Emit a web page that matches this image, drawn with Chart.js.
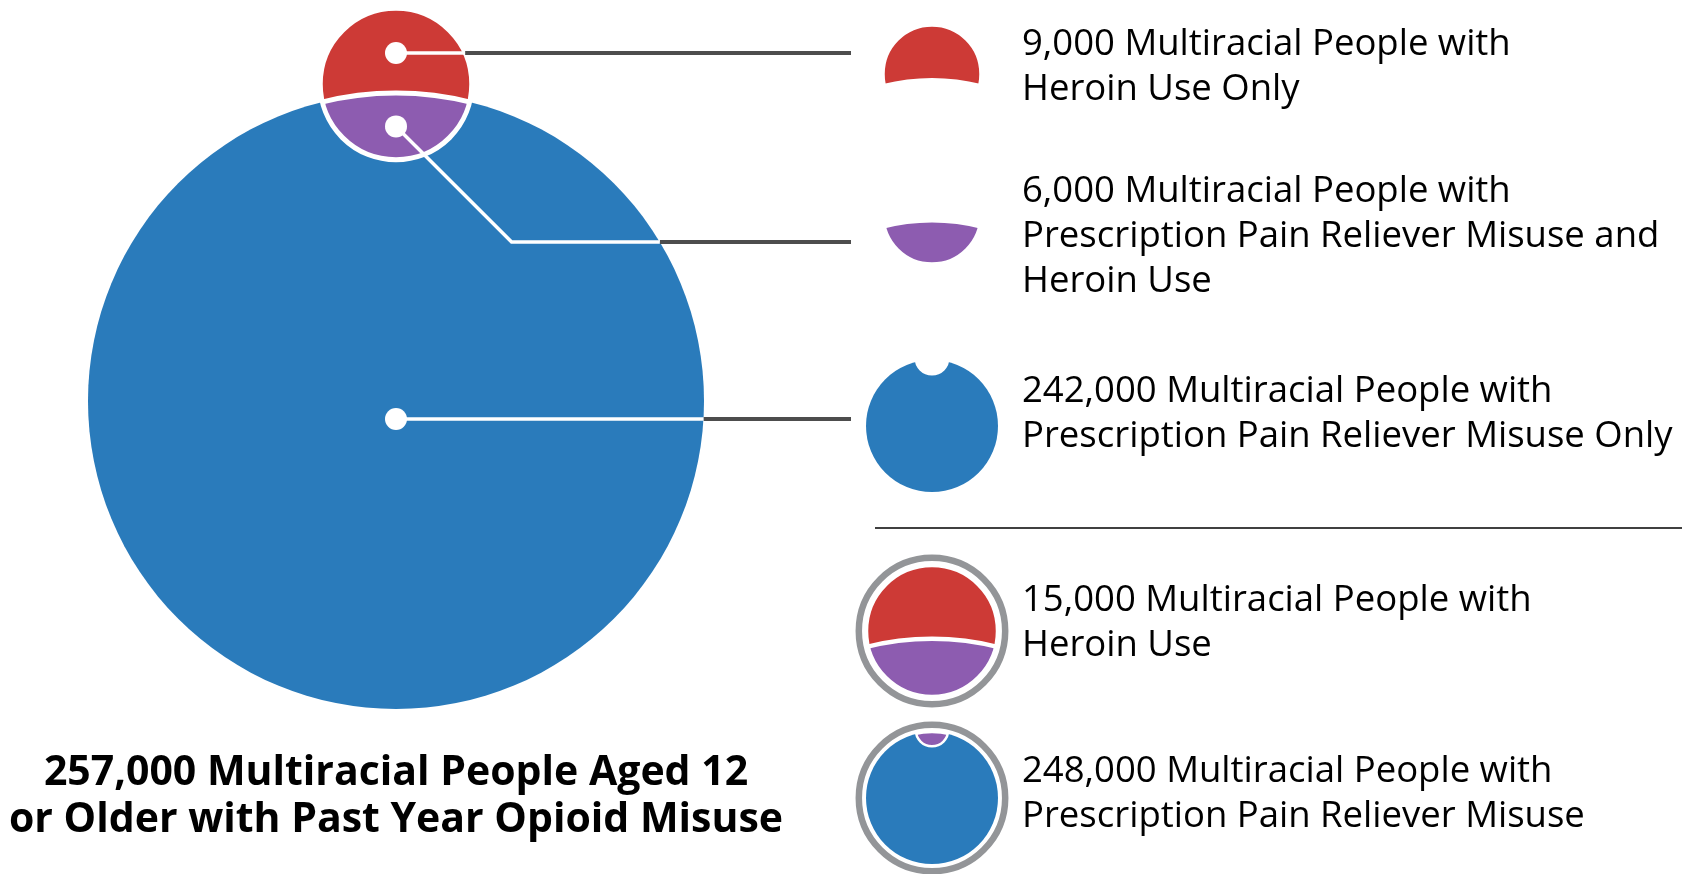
<!DOCTYPE html>
<html lang="en">
<head>
  <meta charset="UTF-8">
  <title>Multiracial People with Past Year Opioid Misuse</title>
  <script src="https://cdn.jsdelivr.net/npm/chart.js"></script>
  <style>
    html, body { margin: 0; padding: 0; background: #fff; overflow: hidden; }
    #wrap { width: 1682px; height: 874px; }
  </style>
</head>
<body>
<div id="wrap"><canvas id="venn" width="1682" height="874"></canvas></div>

<script>
// --- data (people) ---
const segmentValues = [9000, 6000, 242000];   // heroin only, both, pain reliever only
const segmentText = [
  ['Heroin Use Only'],
  ['Prescription Pain Reliever Misuse and', 'Heroin Use'],
  ['Prescription Pain Reliever Misuse Only']
];
const totalValues = [15000, 248000];          // heroin use, pain reliever misuse
const totalText = [
  ['Heroin Use'],
  ['Prescription Pain Reliever Misuse']
];
const overallValue = [257000];
const overallText = ['Multiracial People Aged 12', 'or Older with Past Year Opioid Misuse'];

// --- colours ---
const RED = '#CD3A36';
const PURPLE = '#8D5CB0';
const BLUE = '#2A7BBB';
const LEADER = '#4D4D4D';
const RING = '#939598';

// --- layout ---
const W = 1682, H = 874;
const PX_PER_ROOT = 0.6185;          // circle radius = PX_PER_ROOT * sqrt(people)
const BIG_X = 396, BIG_Y = 401;
const LEADER_Y = [53, 242, 419];
const LEADER_END = 851;
const ICON_X = 932;
const TEXT_X = 1022;
const TEXT_TOP = [55, 202, 402, 611, 782];
const LINE_H = 45;
const fmt = v => v.toLocaleString('en-US');

// circle sizes come from the values, the gap between centres from the overlap area
const R = PX_PER_ROOT * Math.sqrt(totalValues[1]);
const r = PX_PER_ROOT * Math.sqrt(totalValues[0]);

function lensArea(R, r, d) {
  const a = r * r * Math.acos((d * d + r * r - R * R) / (2 * d * r));
  const b = R * R * Math.acos((d * d + R * R - r * r) / (2 * d * R));
  const c = 0.5 * Math.sqrt((-d + r + R) * (d + r - R) * (d - r + R) * (d + r + R));
  return a + b - c;
}
function centreGap(R, r, area) {
  let lo = R - r + 1e-6, hi = R + r - 1e-6;
  for (let i = 0; i < 60; i++) {
    const mid = (lo + hi) / 2;
    if (lensArea(R, r, mid) > area) lo = mid; else hi = mid;
  }
  return (lo + hi) / 2;
}
const gap = centreGap(R, r, Math.PI * PX_PER_ROOT * PX_PER_ROOT * segmentValues[1]);

const big = { x: BIG_X, y: BIG_Y, r: R };
const small = { x: BIG_X, y: BIG_Y - gap, r: r };

const edgeX = (c, y) => c.x + Math.sqrt(c.r * c.r - (y - c.y) * (y - c.y));

const dotRed = { x: small.x, y: LEADER_Y[0] };
const dotPurple = { x: small.x, y: ((big.y - big.r) + (small.y + small.r)) / 2 };
const dotBlue = { x: big.x, y: LEADER_Y[2] };

const icons = [
  { y: 74,  anchor: 'small', size: 49, show: { red: true }, stroke: 3.5 },
  { y: 215, anchor: 'small', size: 49, show: { purple: true }, stroke: 3.5 },
  { y: 426, anchor: 'big',   size: 66, show: { blue: true }, stroke: 2.5 },
  { y: 631, anchor: 'small', size: 66, show: { red: true, purple: true }, stroke: 4.5, ring: true },
  { y: 798, anchor: 'big',   size: 66, show: { blue: true, purple: true }, stroke: 2.5, ring: true }
];

function circlePath(ctx, c) {
  ctx.beginPath();
  ctx.arc(c.x, c.y, c.r, 0, Math.PI * 2);
}

function drawVenn(ctx, B, S, show, lw) {
  if (show.blue) {
    circlePath(ctx, B);
    ctx.fillStyle = BLUE;
    ctx.fill();
  }
  ctx.save();
  circlePath(ctx, S);
  ctx.clip();
  if (show.red) {
    ctx.save();
    ctx.beginPath();
    ctx.rect(-5000, -5000, 10000, 10000);
    ctx.arc(B.x, B.y, B.r, 0, Math.PI * 2);
    ctx.clip('evenodd');
    ctx.fillStyle = RED;
    ctx.fillRect(-5000, -5000, 10000, 10000);
    ctx.restore();
  }
  if (show.purple || show.blue) {
    circlePath(ctx, B);
    ctx.fillStyle = show.purple ? PURPLE : '#fff';
    ctx.fill();
  }
  // divider = edge of the big circle inside the small one
  circlePath(ctx, B);
  ctx.strokeStyle = '#fff';
  ctx.lineWidth = lw;
  ctx.stroke();
  ctx.restore();

  circlePath(ctx, S);
  ctx.strokeStyle = '#fff';
  ctx.lineWidth = lw;
  ctx.stroke();
}

const vennPlugin = {
  id: 'venn',
  beforeDatasetsDraw(chart) {
    const ctx = chart.ctx;
    const xs = chart.scales.x, ys = chart.scales.y;
    const toPx = c => ({
      x: xs.getPixelForValue(c.x),
      y: ys.getPixelForValue(c.y),
      r: xs.getPixelForValue(c.x + c.r) - xs.getPixelForValue(c.x)
    });
    const B = toPx(big), S = toPx(small);

    ctx.save();
    drawVenn(ctx, B, S, { blue: true, red: true, purple: true }, 5);

    icons.forEach(ic => {
      const A = ic.anchor === 'big' ? B : S;
      const s = ic.size / A.r;
      const cx = xs.getPixelForValue(ICON_X), cy = ys.getPixelForValue(ic.y);
      ctx.save();
      ctx.translate(cx, cy);
      ctx.scale(s, s);
      ctx.translate(-A.x, -A.y);
      drawVenn(ctx, B, S, ic.show, ic.stroke / s);
      ctx.restore();
      if (ic.ring) {
        ctx.beginPath();
        ctx.arc(cx, cy, 73.2, 0, Math.PI * 2);
        ctx.strokeStyle = RING;
        ctx.lineWidth = 6.5;
        ctx.stroke();
      }
    });
    ctx.restore();
  },
  afterDatasetsDraw(chart) {
    const ctx = chart.ctx;
    const xs = chart.scales.x, ys = chart.scales.y;
    ctx.save();
    ctx.fillStyle = '#000';
    ctx.textBaseline = 'alphabetic';

    const blocks = [
      ...segmentValues.map((v, i) => [fmt(v) + ' Multiracial People with', ...segmentText[i]]),
      ...totalValues.map((v, i) => [fmt(v) + ' Multiracial People with', ...totalText[i]])
    ];
    ctx.font = '36.5px "Open Sans", "Noto Sans", sans-serif';
    ctx.textAlign = 'left';
    blocks.forEach((lines, i) => {
      lines.forEach((t, j) => {
        ctx.fillText(t, xs.getPixelForValue(TEXT_X), ys.getPixelForValue(TEXT_TOP[i] + j * LINE_H));
      });
    });

    ctx.font = 'bold 41px "Open Sans", "Noto Sans", sans-serif';
    ctx.textAlign = 'center';
    const title = [fmt(overallValue[0]) + ' ' + overallText[0], overallText[1]];
    title.forEach((t, j) => {
      ctx.fillText(t, xs.getPixelForValue(BIG_X), ys.getPixelForValue(785 + j * 47));
    });
    ctx.restore();
  }
};

function line(label, pts, color, width) {
  return {
    label: label,
    data: pts,
    showLine: true,
    borderColor: color,
    borderWidth: width,
    pointRadius: 0,
    pointHoverRadius: 0,
    fill: false,
    tension: 0
  };
}

const xEdgeRed = edgeX(small, LEADER_Y[0]);
const xEdgePurple = edgeX(big, LEADER_Y[1]);
const xEdgeBlue = edgeX(big, LEADER_Y[2]);

// first dataset is drawn on top
const datasets = [
  {
    label: 'dots',
    data: [dotRed, dotPurple, dotBlue],
    pointRadius: 11,
    pointHoverRadius: 11,
    pointBackgroundColor: '#fff',
    pointBorderWidth: 0,
    showLine: false
  },
  line('heroin only (inside)', [dotRed, { x: xEdgeRed, y: LEADER_Y[0] }], '#fff', 3.5),
  line('both (inside)', [dotPurple, { x: dotPurple.x + (LEADER_Y[1] - dotPurple.y), y: LEADER_Y[1] }, { x: xEdgePurple, y: LEADER_Y[1] }], '#fff', 3.5),
  line('pain reliever only (inside)', [dotBlue, { x: xEdgeBlue, y: LEADER_Y[2] }], '#fff', 3.5),
  line('heroin only', [{ x: xEdgeRed, y: LEADER_Y[0] }, { x: LEADER_END, y: LEADER_Y[0] }], LEADER, 4),
  line('both', [{ x: xEdgePurple, y: LEADER_Y[1] }, { x: LEADER_END, y: LEADER_Y[1] }], LEADER, 4),
  line('pain reliever only', [{ x: xEdgeBlue, y: LEADER_Y[2] }, { x: LEADER_END, y: LEADER_Y[2] }], LEADER, 4),
  line('separator', [{ x: 875, y: 528 }, { x: W, y: 528 }], '#000', 1.5)
];

new Chart(document.getElementById('venn'), {
  type: 'scatter',
  data: { datasets: datasets },
  options: {
    responsive: false,
    animation: false,
    devicePixelRatio: 1,
    layout: { padding: 0, autoPadding: false },
    events: [],
    scales: {
      x: { type: 'linear', min: 0, max: W, display: false },
      y: { type: 'linear', min: 0, max: H, reverse: true, display: false }
    },
    plugins: {
      legend: { display: false },
      tooltip: { enabled: false }
    }
  },
  plugins: [vennPlugin]
});
</script>
</body>
</html>
